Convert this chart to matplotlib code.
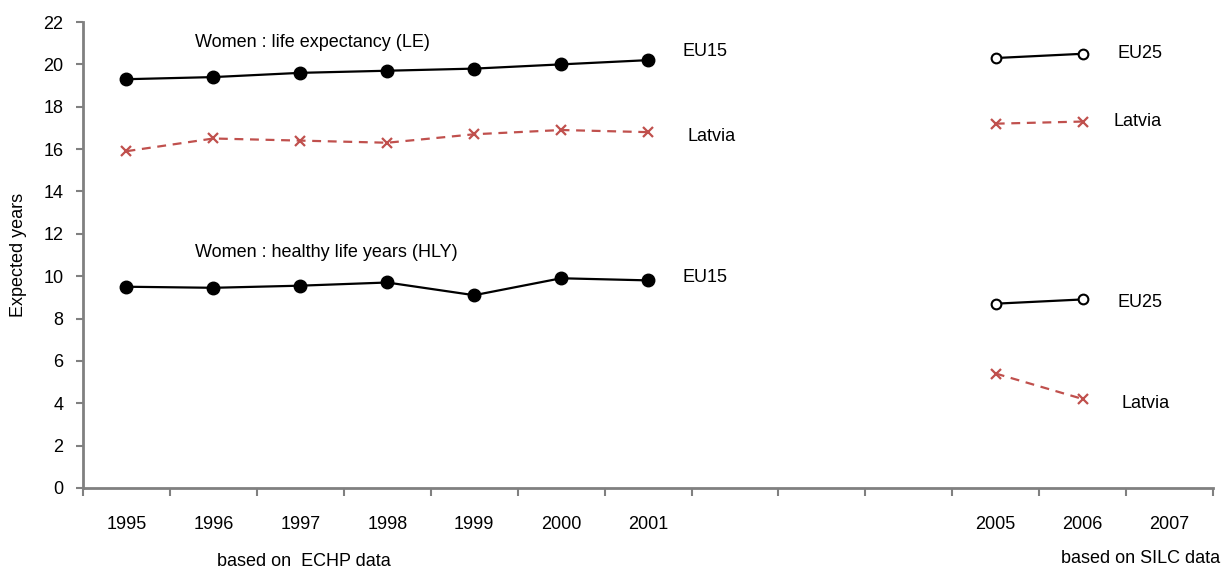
import matplotlib.pyplot as plt
import numpy as np

plt.rcParams["font.family"] = ["Liberation Sans", "DejaVu Sans"]

# x axis slots; the empty strings are the gap years with no data
YEARS = ["1995", "1996", "1997", "1998", "1999", "2000", "2001",
         "", "", "", "2005", "2006", "2007"]
ECHP_YEARS = ["1995", "1996", "1997", "1998", "1999", "2000", "2001"]
SILC_YEARS = ["2005", "2006"]

eu15_le = [19.3, 19.4, 19.6, 19.7, 19.8, 20.0, 20.2]
latvia_le_echp = [15.9, 16.5, 16.4, 16.3, 16.7, 16.9, 16.8]
eu15_hly = [9.5, 9.45, 9.55, 9.7, 9.1, 9.9, 9.8]

eu25_le = [20.3, 20.5]
latvia_le_silc = [17.2, 17.3]
eu25_hly = [8.7, 8.9]
latvia_hly_silc = [5.4, 4.2]

RED = "#C0504D"
GRAY = "#808080"


def pos(labels):
    return [YEARS.index(y) for y in labels]


fig = plt.figure(figsize=(12.21, 5.72), dpi=100)
ax = fig.add_axes((0.068, 0.147, 0.9255, 0.8145))

x_echp = pos(ECHP_YEARS)
x_silc = pos(SILC_YEARS)

dash = (0, (4, 3))
ax.plot(x_echp, eu15_le, color="black", lw=1.6, marker="o", ms=9)
ax.plot(x_echp, latvia_le_echp, color=RED, lw=1.6, ls=dash, marker="x", ms=7, mew=1.6)
ax.plot(x_echp, eu15_hly, color="black", lw=1.6, marker="o", ms=9)

ax.plot(x_silc, eu25_le, color="black", lw=1.6, marker="o", ms=7, mfc="white", mew=1.5)
ax.plot(x_silc, latvia_le_silc, color=RED, lw=1.6, ls=dash, marker="x", ms=7, mew=1.6)
ax.plot(x_silc, eu25_hly, color="black", lw=1.6, marker="o", ms=7, mfc="white", mew=1.5)
ax.plot(x_silc, latvia_hly_silc, color=RED, lw=1.6, ls=dash, marker="x", ms=7, mew=1.6)

# series labels
fs = 13
ax.text(6.4, 20.6, "EU15", fontsize=fs, va="center")
ax.text(6.45, 16.6, "Latvia", fontsize=fs, va="center")
ax.text(6.4, 9.95, "EU15", fontsize=fs, va="center")
ax.text(11.4, 20.5, "EU25", fontsize=fs, va="center")
ax.text(11.35, 17.3, "Latvia", fontsize=fs, va="center")
ax.text(11.4, 8.75, "EU25", fontsize=fs, va="center")
ax.text(11.45, 4.0, "Latvia", fontsize=fs, va="center")
ax.text(0.79, 21.05, "Women : life expectancy (LE)", fontsize=fs, va="center")
ax.text(0.79, 11.1, "Women : healthy life years (HLY)", fontsize=fs, va="center")

ax.set_xlim(-0.5, len(YEARS) - 0.5)
ax.set_ylim(0, 22)
ax.set_yticks(np.arange(0, 23, 2))
ax.set_xticks(range(len(YEARS)))
ax.set_xticklabels(YEARS)
ax.set_xticks(np.arange(-0.5, len(YEARS), 1), minor=True)
ax.tick_params(axis="x", which="major", length=0, pad=20, labelsize=fs)
ax.tick_params(axis="x", which="minor", length=6, width=1.5, color=GRAY, direction="out")
ax.tick_params(axis="y", length=5, width=1.5, color=GRAY, pad=9, labelsize=fs)

for side in ("top", "right"):
    ax.spines[side].set_visible(False)
for side in ("left", "bottom"):
    ax.spines[side].set_color(GRAY)
    ax.spines[side].set_linewidth(2)

ax.set_ylabel("Expected years", fontsize=fs, labelpad=12)

fig.text(0.178, 0.003, "based on  ECHP data", fontsize=fs, ha="left", va="bottom")
fig.text(0.999, 0.008, "based on SILC data", fontsize=fs, ha="right", va="bottom")

fig.savefig("out.png", dpi=100)
